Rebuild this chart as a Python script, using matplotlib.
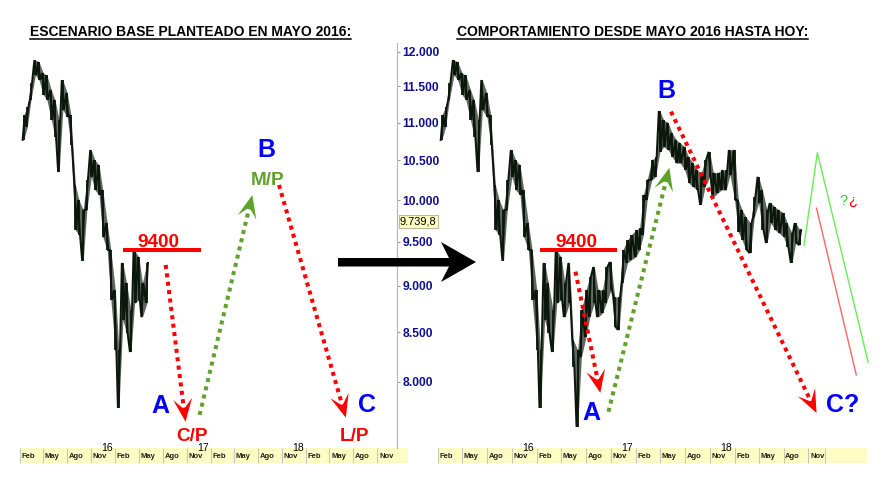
import matplotlib
matplotlib.use("Agg")
import matplotlib.pyplot as plt
import matplotlib.dates as mdates
import matplotlib.transforms as mtransforms
import numpy as np
import pandas as pd
from matplotlib import font_manager
from matplotlib.lines import Line2D
from matplotlib.patches import Polygon, Rectangle

# index sampled on the 1st and 15th of each month (high / low of each half month)
dates = pd.date_range("2015-02-15", "2018-10-01", freq="SMS")
highs = [
    11100, 11213, 11547, 11877, 11850, 11690, 11660, 11448, 11310, 11035, 11590,
    11405, 11100, 10190, 10002, 9879, 10250, 10635, 10505, 10440, 10125,
    9722, 9405, 8954, 8318, 9257, 9032, 8737, 9400, 9325, 9032, 9257, 8421,
    8318, 8737, 8954, 9100, 9211, 8954, 8954, 9211, 9268, 8878, 8878, 9405,
    9521, 9580, 9639, 9660, 10063, 10250, 10505, 10540, 11157, 11035, 10995, 10860,
    10767, 10727, 10675, 10545, 10465, 10377, 10340, 10505, 10610, 10340, 10340, 10377,
    10377, 10635, 10635, 10002, 9879, 9794, 9722, 10038, 10290, 10125, 9879, 9964,
    9915, 9879, 9843, 9722, 9604, 9722, 9639,
]
lows = [
    10767, 10940, 11310, 11660, 11590, 11380, 11310, 11035, 10807, 10350, 11171,
    11075, 10700, 9639, 9580, 9280, 9879, 10290, 10125, 10063, 9556,
    9405, 8845, 8318, 7746, 8630, 8494, 8297, 8812, 8845, 8660, 8812, 8146,
    7567, 8245, 8452, 8660, 8812, 8660, 8705, 8812, 8954, 8556, 8525, 9032,
    9257, 9291, 9325, 9405, 9580, 10002, 10250, 10290, 10610, 10675, 10635, 10545,
    10465, 10465, 10377, 10213, 10163, 10125, 9940, 10163, 10290, 10038, 10088, 10125,
    10125, 10313, 10002, 9615, 9521, 9405, 9370, 9794, 9964, 9639, 9486, 9722,
    9639, 9604, 9556, 9440, 9257, 9486, 9463,
]
left_cutoff = "2016-06-01"      # left panel only shows data known in May 2016

level_9400 = 9400
last_value = 9739.8
price_ticks = [8000, 8500, 9000, 9500, 10000, 10500, 11000, 11500, 12000]
month_names = {2: "Feb", 5: "May", 8: "Ago", 11: "Nov"}
year_labels = {"16": "2016-01-01", "17": "2017-01-01", "18": "2018-01-01"}

# scenario paths (start date, level) -> (end date, level)
left_waves = [
    (("2016-08-12", 9234), ("2016-10-27", 7616), "red"),
    (("2016-12-20", 7680), ("2017-07-10", 10063), "green"),
    (("2017-10-20", 10187), ("2018-07-03", 7654), "red"),
]
right_waves = [
    (("2016-06-23", 9158), ("2016-09-23", 7890), "red"),
    (("2016-10-23", 7710), ("2017-06-05", 10406), "green"),
    (("2017-06-11", 11148), ("2018-12-01", 7698), "red"),
]
sketch_green_dates = ["2018-10-16", "2018-12-04", "2019-06-10"]
sketch_green_values = [9463, 10600, 8193]
sketch_red_dates = ["2018-12-01", "2019-04-27"]
sketch_red_values = [9900, 8066]

INK = "#0c170c"
RED = "#ff0000"
GREEN = "#5fa12b"
BLUE = "#0000ff"
NAVY = "#10108c"
STRIP = "#fcfcc4"
W, H = 891, 482

available = {f.name for f in font_manager.fontManager.ttflist}
if "Liberation Sans Narrow" in available:
    NARROW, k, kb = "Liberation Sans Narrow", 1.0, 1.0
else:
    NARROW, k, kb = "Liberation Sans", 0.83, 0.9

fig = plt.figure(figsize=(W / 100, H / 100), dpi=100, facecolor="white")


def px_axes(x0, x1, top, bottom):
    return fig.add_axes([x0 / W, 1 - bottom / H, (x1 - x0) / W, (bottom - top) / H])


ax_l = px_axes(20, 397, 43, 448)
ax_r = px_axes(438, 872, 43, 448)
ax_l.set_xlim(pd.Timestamp("2015-02-26"), pd.Timestamp("2019-01-15"))
ax_r.set_xlim(pd.Timestamp("2015-02-21"), pd.Timestamp("2019-06-24"))

tick_dates = [d for d in pd.date_range("2015-02-01", "2018-11-01", freq="MS") if d.month in month_names]

for ax in (ax_l, ax_r):
    ax.set_yscale("log")
    ax.set_ylim(7374, 12129)
    ax.minorticks_off()
    for s in ax.spines.values():
        s.set_visible(False)
    ax.set_facecolor("none")

# y axis between the panels
ax_l.spines["right"].set_visible(True)
ax_l.spines["right"].set_color("#b4b4b4")
ax_l.yaxis.tick_right()
ax_l.set_yticks(price_ticks)
ax_l.set_yticklabels([f"{v:,}".replace(",", ".") for v in price_ticks],
                     family=NARROW, fontweight="bold", fontsize=10.5 * k)
ax_l.tick_params(axis="y", which="both", length=2.5, width=0.8, color="#9a9a9a",
                 pad=1.5, labelcolor=NAVY)
ax_r.set_yticks([])
ax_l.text(1 + 3 / 377, last_value, "9.739,8", transform=ax_l.get_yaxis_transform(),
          ha="left", va="center", family=NARROW, fontsize=9.5 * k, color="black",
          bbox=dict(boxstyle="square,pad=0.12", fc="#ffffc0", ec="#b8b8a0", lw=0.8))


def date_strip(ax, width_px, extra_ticks=()):
    ax_h = ax.get_position().height * H
    ax_w = ax.get_position().width * W
    h = 15 / ax_h
    strip = Rectangle((0, -h), width_px / ax_w, h, transform=ax.transAxes, fc=STRIP,
                      ec="none", clip_on=False, zorder=0.5)
    ax.add_patch(strip)
    ax.set_xticks(list(tick_dates) + [pd.Timestamp(d) for d in extra_ticks])
    ax.tick_params(axis="x", direction="out", length=15 * 0.72, width=0.8,
                   color="#c8c8b4", labelbottom=False)
    trans = mtransforms.blended_transform_factory(ax.transData, ax.transAxes)
    shift = trans + mtransforms.ScaledTranslation(1.2 / 72, 0, fig.dpi_scale_trans)
    for d in tick_dates:
        t = ax.text(d, -(h + 2 / ax_h) / 2, month_names[d.month], transform=shift, ha="left",
                    va="center", family=NARROW, fontweight="bold", fontsize=6.6 * k,
                    color="#202020", zorder=3)
        t.set_clip_path(strip)
    for lab, d in year_labels.items():
        ax.text(pd.Timestamp(d), 0, lab, transform=trans, ha="center",
                va="center", family="Liberation Sans", fontsize=7.5, color="black", zorder=3)


date_strip(ax_l, 388)
date_strip(ax_r, 429, extra_ticks=["2019-01-01"])


def draw_prices(ax, d, hi, lo):
    # half-month ranges: a shaded band plus bars joined in the direction of travel
    x = mdates.date2num(d)
    hi, lo = np.asarray(hi, float), np.asarray(lo, float)
    ax.fill_between(x, lo, hi, color=INK, alpha=0.65, lw=0, zorder=2)
    mid = (hi + lo) / 2
    up = np.r_[np.diff(mid) >= 0, True]
    first = np.where(up, lo, hi)
    second = np.where(up, hi, lo)
    xs = np.column_stack([x - 4, x + 4]).ravel()
    ys = np.column_stack([first, second]).ravel()
    ax.plot(xs, ys, color=INK, lw=1.4, zorder=3, solid_joinstyle="miter")
    ax.vlines(x, lo, hi, color=INK, lw=1.3, zorder=3)


mask = dates <= pd.Timestamp(left_cutoff)
draw_prices(ax_l, dates[mask], np.array(highs)[mask], np.array(lows)[mask])
draw_prices(ax_r, dates, highs, lows)


def dotted_arrow(ax, start, tip, color):
    x0 = mdates.date2num(pd.Timestamp(start[0]))
    x1 = mdates.date2num(pd.Timestamp(tip[0]))
    a = ax.transData.transform([(x0, start[1]), (x1, tip[1])])
    d = (a[1] - a[0]) / np.hypot(*(a[1] - a[0]))
    n = np.array([-d[1], d[0]])
    L, half = 23, 9.5
    notch = a[1] - 0.55 * L * d
    head = [a[1], a[1] - L * d + half * n, notch, a[1] - L * d - half * n]
    end = ax.transData.inverted().transform(notch)
    ax.plot([x0, end[0]], [start[1], end[1]], color=color, lw=2.9,
            linestyle=(0, (1, 1.1)), dash_capstyle="butt", zorder=4, clip_on=False)
    ax.add_patch(Polygon(ax.transData.inverted().transform(head), closed=True,
                         fc=color, ec="none", zorder=5, clip_on=False))


wave_colors = {"red": RED, "green": GREEN}
for ax, waves in ((ax_l, left_waves), (ax_r, right_waves)):
    for start, tip, c in waves:
        dotted_arrow(ax, start, tip, wave_colors[c])

# 9400 resistance
ax_l.hlines(level_9400, pd.Timestamp("2016-03-01"), pd.Timestamp("2016-12-25"), color=RED, lw=2.9, zorder=4)
ax_r.hlines(level_9400, pd.Timestamp("2016-02-14"), pd.Timestamp("2016-11-24"), color=RED, lw=2.9, zorder=4)


def label(ax, date, level, text, color, size, factor):
    ax.text(pd.Timestamp(date), level, text, ha="center", va="baseline", color=color,
            family=NARROW, fontweight="bold", fontsize=size * factor, zorder=6, clip_on=False)


label(ax_l, "2016-07-15", 9440, "9400", RED, 16.5, k)
label(ax_l, "2017-09-03", 10544, "B", BLUE, 20, kb)
label(ax_l, "2017-09-05", 10187, "M/P", GREEN, 16.5, k)
label(ax_l, "2016-07-24", 7698, "A", BLUE, 20, kb)
label(ax_l, "2016-11-20", 7440, "C/P", RED, 16.5, k)
label(ax_l, "2018-09-21", 7708, "C", BLUE, 20, kb)
label(ax_l, "2018-08-07", 7440, "L/P", RED, 16.5, k)

label(ax_r, "2016-06-25", 9440, "9400", RED, 16.5, k)
label(ax_r, "2016-08-22", 7632, "A", BLUE, 20, kb)
label(ax_r, "2017-05-26", 11337, "B", BLUE, 20, kb)
label(ax_r, "2019-03-08", 7708, "C?", BLUE, 20, kb)

ax_r.plot(pd.to_datetime(sketch_green_dates), sketch_green_values, color="#66ee55", lw=1.0, zorder=4)
ax_r.plot(pd.to_datetime(sketch_red_dates), sketch_red_values, color="#ff6464", lw=1.0, zorder=4)
ax_r.text(pd.Timestamp("2019-03-12"), 9940, "?", color="#33cc33", ha="center", va="baseline",
          family="Liberation Sans", fontsize=10.5)
ax_r.text(pd.Timestamp("2019-04-12"), 9940, "\u00bf", color=RED, ha="center", va="baseline",
          family="Liberation Sans", fontsize=10.5)

# big arrow between the panels
arrow_px = [(338, 258), (449, 258), (441, 242), (476, 262), (441, 282), (449, 266.5), (338, 266.5)]
fig.add_artist(Polygon([(x / W, 1 - y / H) for x, y in arrow_px], closed=True,
                       transform=fig.transFigure, fc="black", ec="none", zorder=10))

renderer = fig.canvas.get_renderer()
for cx, title in ((190.5, "ESCENARIO BASE PLANTEADO EN MAYO 2016:"),
                  (632.5, "COMPORTAMIENTO DESDE MAYO 2016 HASTA HOY:")):
    t = fig.text(cx / W, 1 - 36 / H, title, ha="center", va="baseline", family=NARROW,
                 fontweight="bold", fontsize=12 * k, color="black")
    bb = t.get_window_extent(renderer)
    yy = 1 - 38.6 / H
    fig.add_artist(Line2D([bb.x0 / W, bb.x1 / W], [yy, yy], transform=fig.transFigure,
                          color="black", lw=1.1))

fig.savefig("out.png", dpi=100, facecolor="white")
